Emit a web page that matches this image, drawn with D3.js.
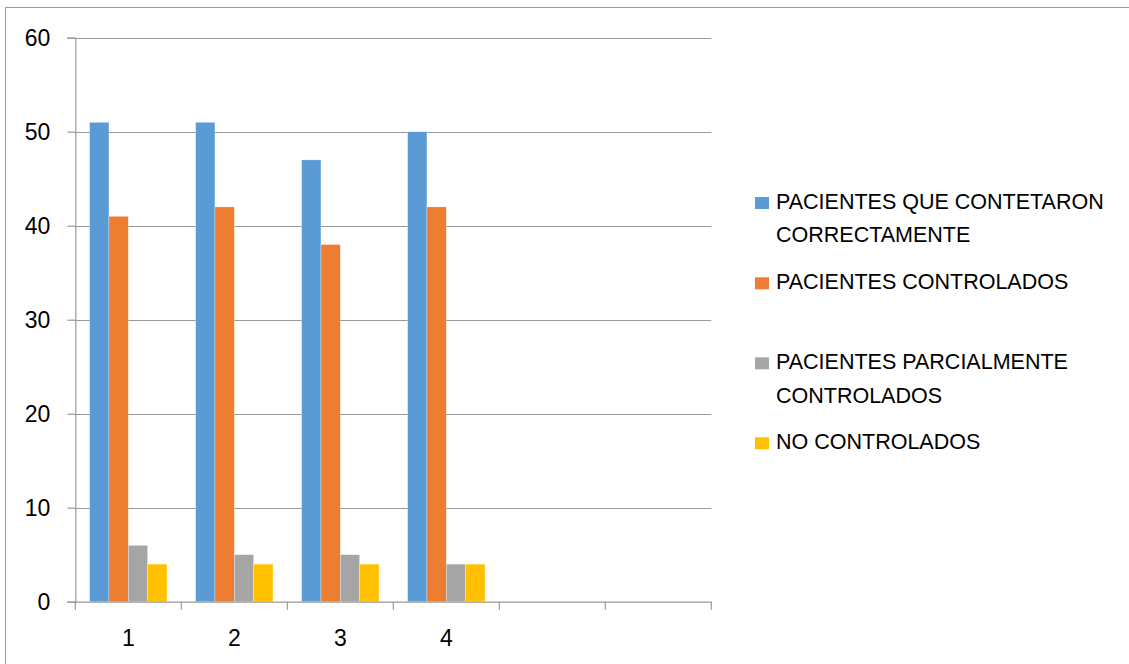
<!DOCTYPE html>
<html><head><meta charset="utf-8">
<script src="https://cdn.jsdelivr.net/npm/d3@7"></script>
<style>
html,body{margin:0;padding:0;background:#fff;}
svg{display:block;}
text{font-family:"Liberation Sans",Arial,sans-serif;fill:#000;}
</style></head>
<body><svg id="c" width="1129" height="664"></svg>
<script>
const xLabels = ["1","2","3","4","",""];
const seriesNames = ["PACIENTES QUE CONTETARON CORRECTAMENTE","PACIENTES CONTROLADOS","PACIENTES PARCIALMENTE CONTROLADOS","NO CONTROLADOS"];
const legendLines = [["PACIENTES QUE CONTETARON","CORRECTAMENTE"],["PACIENTES CONTROLADOS"],["PACIENTES PARCIALMENTE","CONTROLADOS"],["NO CONTROLADOS"]];
const correctos = [51,51,47,50];
const controlados = [41,42,38,42];
const parciales = [6,5,5,4];
const noControlados = [4,4,4,4];
const colors = ["#5B9BD5","#ED7D31","#A5A5A5","#FFC000"];
const yTicks = [0,10,20,30,40,50,60];

const series = [correctos, controlados, parciales, noControlados];
const svg = d3.select("#c");

// outer frame (only top/left visible)
svg.append("rect").attr("x",5.5).attr("y",7.5).attr("width",1200).attr("height",700)
  .attr("fill","none").attr("stroke","#999").attr("stroke-width",1);

const pLeft = 75.3, pRight = 711.3, pTop = 37.7, pBottom = 601.7;
const idx = d3.range(xLabels.length);
const x = d3.scaleBand().domain(idx).range([pLeft,pRight]).paddingInner(0).paddingOuter(0);
const bw = x.bandwidth();
const xi = d3.scaleBand().domain(d3.range(series.length)).range([bw*0.135, bw*0.865]).padding(0);
const y = d3.scaleLinear().domain([0,60]).range([pBottom,pTop]);

// gridlines
svg.append("g").selectAll("line").data(yTicks.filter(t=>t>0)).join("line")
  .attr("x1",pLeft).attr("x2",pRight).attr("y1",d=>Math.round(y(d))+0.5).attr("y2",d=>Math.round(y(d))+0.5)
  .attr("stroke","#999").attr("stroke-width",1.2);

// bars
const gBars = svg.append("g");
series.forEach((vals,s)=>{
  gBars.append("g").selectAll("rect").data(vals).join("rect")
    .attr("x",(d,i)=>x(i)+xi(s)).attr("width",xi.bandwidth())
    .attr("y",d=>y(d)).attr("height",d=>y(0)-y(d))
    .attr("fill",colors[s]).attr("stroke","#fff").attr("stroke-width",0.5).attr("stroke-opacity",0.6);
});

// y axis
const yAxis = svg.append("g").attr("transform",`translate(${pLeft},0)`)
  .call(d3.axisLeft(y).tickValues(yTicks).tickSize(8).tickPadding(17));
yAxis.select(".domain").attr("stroke","#999").attr("stroke-width",1.2);
yAxis.selectAll(".tick line").attr("stroke","#999").attr("stroke-width",1.2);
yAxis.selectAll("text").style("font-size","23px").attr("fill","#000")
  .style("font-family",'"Liberation Sans",Arial,sans-serif');

// x axis
const gx = svg.append("g").attr("transform",`translate(0,${pBottom})`);
gx.append("line").attr("x1",pLeft).attr("x2",pRight).attr("y1",0.5).attr("y2",0.5)
  .attr("stroke","#999").attr("stroke-width",1.2);
const bounds = d3.range(xLabels.length+1).map(i=> i<xLabels.length ? x(i) : x(xLabels.length-1)+bw);
gx.selectAll("line.t").data(bounds).join("line").attr("class","t")
  .attr("x1",d=>d).attr("x2",d=>d).attr("y1",0).attr("y2",8)
  .attr("stroke","#999").attr("stroke-width",1.2);
gx.selectAll("text").data(idx).join("text")
  .attr("x",i=>x(i)+bw/2).attr("y",44).attr("text-anchor","middle")
  .style("font-size","23px").text(i=>xLabels[i]);

// legend
const legY = [209, 289.3, 369.3, 449.3];
const leg = svg.append("g");
seriesNames.forEach((name,s)=>{
  const g = leg.append("g");
  g.append("rect").attr("x",755).attr("y",legY[s]-12).attr("width",14).attr("height",12).attr("fill",colors[s]);
  legendLines[s].forEach((ln,k)=>{
    g.append("text").attr("x",776).attr("y",legY[s]+k*33.4).style("font-size","21.5px").text(ln);
  });
});
</script></body></html>
